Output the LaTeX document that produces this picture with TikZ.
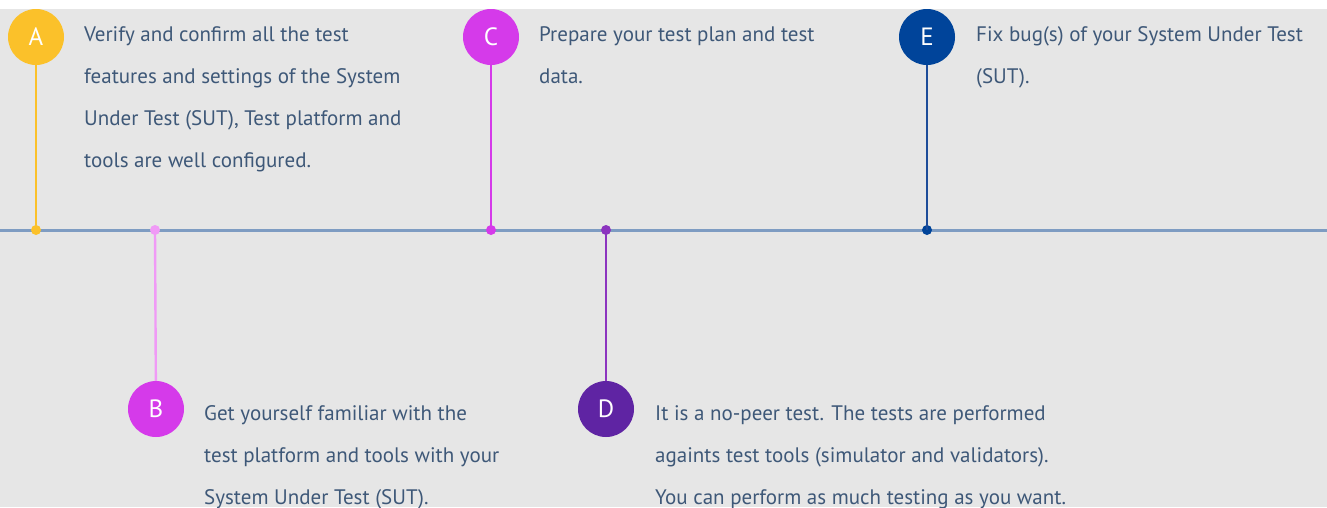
\documentclass[tikz,border=0pt]{standalone}
\usepackage{fontspec}
\setmainfont{PT Sans}
\begin{document}
\begin{tikzpicture}[x=1pt,y=-1pt,
  bgfill/.style={fill=bggray,draw=none},
  badge/.style={circle,minimum size=56pt,inner sep=0pt,text=white,font=\fontsize{25}{25}\selectfont},
  dotmark/.style={circle,minimum size=10pt,inner sep=0pt},
  desc/.style={anchor=base west,align=left,inner sep=0pt,text=txtblue,font=\fontsize{21}{42}\selectfont},
  stem/.style={line width=2.4pt},
  axis/.style={line width=3pt,draw=axisblue}]
\definecolor{bggray}{HTML}{E6E6E6}
\definecolor{axisblue}{HTML}{7E9CC2}
\definecolor{txtblue}{HTML}{3E5878}
\definecolor{cA}{HTML}{FBC12A}
\definecolor{cB}{HTML}{D53AEA}
\definecolor{lB}{HTML}{F09AF6}
\definecolor{cC}{HTML}{D53AEA}
\definecolor{cD}{HTML}{5F24A3}
\definecolor{lD}{HTML}{8C34BF}
\definecolor{cE}{HTML}{00449A}
\definecolor{lE}{HTML}{1D4C99}
\useasboundingbox (0,0) rectangle (1327,507);
\fill[white] (0,0) rectangle (1327,507);
\path[bgfill] (0,9) rectangle (1327,507);
% axis
\coordinate (L) at (0,230);
\coordinate (R) at (1327,230);
\draw[axis] (L) -- (R);
% badges
\node[badge,fill=cA] (A) at (36,37) {A};
\node[badge,fill=cC] (C) at (491,37) {C};
\node[badge,fill=cE] (E) at (927,37) {E};
\node[badge,fill=cB] (B) at (156,409) {B};
\node[badge,fill=cD] (D) at (606,409) {D};
% dots on axis
\node[dotmark,fill=cA] (dA) at (36,230) {};
\node[dotmark,fill=lB] (dB) at (155,230) {};
\node[dotmark,fill=cC] (dC) at (491,230) {};
\node[dotmark,fill=lD] (dD) at (606,230) {};
\node[dotmark,fill=cE] (dE) at (927,230) {};
% stems
\draw[stem,draw=cA] (A) -- (dA.center);
\draw[stem,draw=lB] (B) -- (dB.center);
\draw[stem,draw=cC] (C) -- (dC.center);
\draw[stem,draw=lD] (D) -- (dD.center);
\draw[stem,draw=lE] (E) -- (dE.center);
% texts (anchored at the baseline of the last line)
\node[desc] (tA) at (84,167) {Verify and confirm all the test\\features and settings of the System\\Under Test (SUT), Test platform and\\tools are well configured.};
\node[desc] (tC) at (539,83) {Prepare your test plan and test\\data.};
\node[desc] (tE) at (976,83) {Fix bug(s) of your System Under Test\\(SUT).};
\node[desc] (tB) at (204,504) {Get yourself familiar with the\\test platform and tools with your\\System Under Test (SUT).};
\node[desc] (tD) at (655,504) {It is a no-peer test. The tests are performed\\againts test tools (simulator and validators).\\You can perform as much testing as you want.};
\end{tikzpicture}
\end{document}
